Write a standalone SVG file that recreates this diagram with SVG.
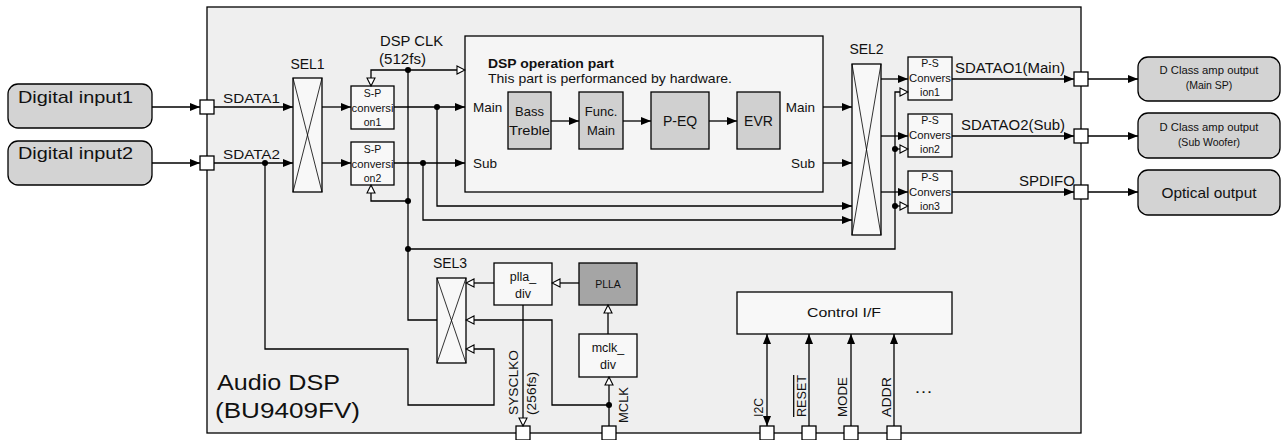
<svg xmlns="http://www.w3.org/2000/svg" width="1282" height="440" viewBox="0 0 1282 440">
<style>
.ln{stroke:#000;stroke-width:1.3;fill:none}
.bx{stroke:#000;stroke-width:1.3}
.t{font-family:"Liberation Sans",Arial,sans-serif;fill:#111}
.c{text-anchor:middle}
.e{text-anchor:end}
.dot{fill:#000}
.pin{fill:#fff;stroke:#000;stroke-width:1.3}
</style>
<defs>
<marker id="af" markerWidth="10" markerHeight="8" refX="10" refY="4" orient="auto" markerUnits="userSpaceOnUse"><path d="M0,0 L10,4 L0,8 z" fill="#000"/></marker>
<marker id="afr" markerWidth="10" markerHeight="8" refX="10" refY="4" orient="auto-start-reverse" markerUnits="userSpaceOnUse"><path d="M0,0 L10,4 L0,8 z" fill="#000"/></marker>
<marker id="ah" markerWidth="10" markerHeight="10" refX="9" refY="5" orient="auto" markerUnits="userSpaceOnUse"><path d="M1,1 L9,5 L1,9 z" fill="#fff" stroke="#000" stroke-width="1.1"/></marker>
</defs>

<g id="chip">
<rect x="207" y="7" width="874" height="426" fill="#efefef" class="bx"/>
<text class="t" x="217" y="390" font-size="22" textLength="123" lengthAdjust="spacingAndGlyphs">Audio DSP</text>
<text class="t" x="215" y="418" font-size="22" textLength="145" lengthAdjust="spacingAndGlyphs">(BU9409FV)</text>
</g>

<g id="input1">
<rect x="8" y="84" width="144" height="44" rx="10" fill="#d3d3d3" class="bx"/>
<text class="t" x="18" y="103" font-size="17" textLength="115" lengthAdjust="spacingAndGlyphs">Digital input1</text>
</g>
<g id="input2">
<rect x="8" y="141" width="144" height="44" rx="10" fill="#d3d3d3" class="bx"/>
<text class="t" x="18" y="159" font-size="17" textLength="115" lengthAdjust="spacingAndGlyphs">Digital input2</text>
</g>

<g id="sel1">
<rect x="293" y="78" width="29" height="114" fill="#f8f8f8" class="bx"/>
<path d="M293,78 L322,192 M322,78 L293,192" stroke="#000" stroke-width="0.8"/>
<text class="t c" x="307.5" y="69" font-size="14">SEL1</text>
</g>

<g id="sp1">
<rect x="351" y="86" width="43" height="43" fill="#f8f8f8" class="bx"/>
<text class="t c" x="372.5" y="97" font-size="10.5">S-P</text>
<text class="t c" x="372.5" y="112" font-size="10.5" textLength="42" lengthAdjust="spacingAndGlyphs">conversi</text>
<text class="t c" x="372.5" y="126" font-size="10.5">on1</text>
</g>
<g id="sp2">
<rect x="351" y="142" width="43" height="43" fill="#f8f8f8" class="bx"/>
<text class="t c" x="372.5" y="153" font-size="10.5">S-P</text>
<text class="t c" x="372.5" y="168" font-size="10.5" textLength="42" lengthAdjust="spacingAndGlyphs">conversi</text>
<text class="t c" x="372.5" y="182" font-size="10.5">on2</text>
</g>

<g id="dspclk-label">
<text class="t" x="380" y="46" font-size="14.5" textLength="63" lengthAdjust="spacingAndGlyphs">DSP CLK</text>
<text class="t" x="379" y="64" font-size="14.5" textLength="47" lengthAdjust="spacingAndGlyphs">(512fs)</text>
</g>

<g id="dsp-op">
<rect x="465" y="36" width="358" height="156" fill="#f5f5f5" class="bx"/>
<text class="t" x="488" y="68" font-size="13" font-weight="bold" textLength="126" lengthAdjust="spacingAndGlyphs">DSP operation part</text>
<text class="t" x="488" y="83" font-size="13" textLength="244" lengthAdjust="spacingAndGlyphs">This part is performanced by hardware.</text>
<text class="t" x="473" y="112" font-size="13.5">Main</text>
<text class="t" x="473" y="168" font-size="13.5">Sub</text>
<text class="t e" x="815" y="112" font-size="13.5">Main</text>
<text class="t e" x="815" y="168" font-size="13.5">Sub</text>
</g>
<g id="bass">
<rect x="508" y="92" width="43" height="57" fill="#d0d0d0" class="bx"/>
<text class="t c" x="529.5" y="116" font-size="13">Bass</text>
<text class="t c" x="529.5" y="135" font-size="13" textLength="41" lengthAdjust="spacingAndGlyphs">Treble</text>
</g>
<g id="func">
<rect x="579" y="92" width="44" height="57" fill="#d0d0d0" class="bx"/>
<text class="t c" x="601" y="116" font-size="13">Func.</text>
<text class="t c" x="601" y="135" font-size="13">Main</text>
</g>
<g id="peq">
<rect x="651" y="92" width="58" height="57" fill="#d0d0d0" class="bx"/>
<text class="t c" x="680" y="126" font-size="14">P-EQ</text>
</g>
<g id="evr">
<rect x="737" y="92" width="43" height="57" fill="#d0d0d0" class="bx"/>
<text class="t c" x="758.5" y="126" font-size="14">EVR</text>
</g>

<g id="sel2">
<rect x="852" y="64" width="29" height="171" fill="#f8f8f8" class="bx"/>
<path d="M852,64 L881,235 M881,64 L852,235" stroke="#000" stroke-width="0.8"/>
<text class="t c" x="866.5" y="54" font-size="14">SEL2</text>
</g>

<g id="ps1">
<rect x="908" y="57" width="44" height="43" fill="#f8f8f8" class="bx"/>
<text class="t c" x="930" y="67" font-size="10.5">P-S</text>
<text class="t c" x="930" y="82" font-size="10.5" textLength="42" lengthAdjust="spacingAndGlyphs">Convers</text>
<text class="t c" x="930" y="96" font-size="10.5">ion1</text>
</g>
<g id="ps2">
<rect x="908" y="114" width="44" height="43" fill="#f8f8f8" class="bx"/>
<text class="t c" x="930" y="124" font-size="10.5">P-S</text>
<text class="t c" x="930" y="139" font-size="10.5" textLength="42" lengthAdjust="spacingAndGlyphs">Convers</text>
<text class="t c" x="930" y="153" font-size="10.5">ion2</text>
</g>
<g id="ps3">
<rect x="908" y="171" width="44" height="42" fill="#f8f8f8" class="bx"/>
<text class="t c" x="930" y="181" font-size="10.5">P-S</text>
<text class="t c" x="930" y="196" font-size="10.5" textLength="42" lengthAdjust="spacingAndGlyphs">Convers</text>
<text class="t c" x="930" y="210" font-size="10.5">ion3</text>
</g>

<g id="out1">
<rect x="1138" y="57" width="142" height="44" rx="10" fill="#d3d3d3" class="bx"/>
<text class="t c" x="1209" y="74" font-size="10.5" textLength="99" lengthAdjust="spacingAndGlyphs">D Class amp output</text>
<text class="t c" x="1209" y="89" font-size="10.5">(Main SP)</text>
</g>
<g id="out2">
<rect x="1138" y="113" width="142" height="45" rx="10" fill="#d3d3d3" class="bx"/>
<text class="t c" x="1209" y="131" font-size="10.5" textLength="99" lengthAdjust="spacingAndGlyphs">D Class amp output</text>
<text class="t c" x="1209" y="146" font-size="10.5">(Sub Woofer)</text>
</g>
<g id="out3">
<rect x="1138" y="170" width="142" height="45" rx="10" fill="#d3d3d3" class="bx"/>
<text class="t c" x="1209" y="198" font-size="15" textLength="95" lengthAdjust="spacingAndGlyphs">Optical output</text>
</g>

<g id="sel3">
<rect x="437" y="278" width="29" height="85" fill="#f8f8f8" class="bx"/>
<path d="M437,278 L466,363 M466,278 L437,363" stroke="#000" stroke-width="0.8"/>
<text class="t c" x="450" y="268" font-size="14">SEL3</text>
</g>
<g id="plla-div">
<rect x="494" y="263" width="58" height="42" fill="#f8f8f8" class="bx"/>
<text class="t c" x="523" y="281" font-size="12.5">plla_</text>
<text class="t c" x="523" y="298" font-size="12.5">div</text>
</g>
<g id="plla">
<rect x="579" y="263" width="58" height="42" fill="#a5a5a5" class="bx"/>
<text class="t c" x="608" y="288" font-size="10.5">PLLA</text>
</g>
<g id="mclk-div">
<rect x="579" y="334" width="58" height="43" fill="#f8f8f8" class="bx"/>
<text class="t c" x="608" y="352" font-size="12.5">mclk_</text>
<text class="t c" x="608" y="369" font-size="12.5">div</text>
</g>
<g id="control-if">
<rect x="737" y="292" width="215" height="42" fill="#f8f8f8" class="bx"/>
<text class="t c" x="844" y="317" font-size="13" textLength="74" lengthAdjust="spacingAndGlyphs">Control I/F</text>
</g>

<g id="pins">
<rect class="pin" x="200" y="100" width="14" height="14"/>
<rect class="pin" x="200" y="156" width="14" height="14"/>
<rect class="pin" x="1074" y="72" width="14" height="14"/>
<rect class="pin" x="1074" y="129" width="14" height="14"/>
<rect class="pin" x="1074" y="185" width="14" height="14"/>
<rect class="pin" x="516" y="426" width="14" height="14"/>
<rect class="pin" x="602" y="426" width="14" height="14"/>
<rect class="pin" x="760" y="426" width="14" height="14"/>
<rect class="pin" x="802" y="426" width="14" height="14"/>
<rect class="pin" x="844" y="426" width="14" height="14"/>
<rect class="pin" x="887" y="426" width="14" height="14"/>
</g>

<g id="connectors">
<path class="ln" d="M152,107 H200" marker-end="url(#af)"/>
<path class="ln" d="M152,163 H200" marker-end="url(#af)"/>
<path class="ln" d="M214,107 H293" marker-end="url(#af)"/>
<path class="ln" d="M214,163 H293" marker-end="url(#af)"/>
<path class="ln" d="M265,163 V349 H408 V405 H494 V349 H466" marker-end="url(#ah)"/>
<path class="ln" d="M322,107 H351" marker-end="url(#af)"/>
<path class="ln" d="M322,163 H351" marker-end="url(#af)"/>
<path class="ln" d="M394,107 H465" marker-end="url(#af)"/>
<path class="ln" d="M394,163 H465" marker-end="url(#af)"/>
<path class="ln" d="M437,107 V206 H852" marker-end="url(#af)"/>
<path class="ln" d="M423,163 V220 H852" marker-end="url(#af)"/>
<path class="ln" d="M408,70 H465" marker-end="url(#ah)"/>
<path class="ln" d="M408,70 H371 V86" marker-end="url(#ah)"/>
<path class="ln" d="M408,70 V320 H437"/>
<path class="ln" d="M408,201 H371 V185" marker-end="url(#ah)"/>
<path class="ln" d="M408,249 H895 V92 H908" marker-end="url(#ah)"/>
<path class="ln" d="M895,149 H908" marker-end="url(#ah)"/>
<path class="ln" d="M895,206 H908" marker-end="url(#ah)"/>
<path class="ln" d="M551,121 H579" marker-end="url(#af)"/>
<path class="ln" d="M623,121 H651" marker-end="url(#af)"/>
<path class="ln" d="M709,121 H737" marker-end="url(#af)"/>
<path class="ln" d="M823,107 H852" marker-end="url(#af)"/>
<path class="ln" d="M823,163 H852" marker-end="url(#af)"/>
<path class="ln" d="M881,79 H908" marker-end="url(#af)"/>
<path class="ln" d="M881,136 H908" marker-end="url(#af)"/>
<path class="ln" d="M881,192 H908" marker-end="url(#af)"/>
<path class="ln" d="M952,79 H1074" marker-end="url(#af)"/>
<path class="ln" d="M952,136 H1074" marker-end="url(#af)"/>
<path class="ln" d="M952,192 H1074" marker-end="url(#af)"/>
<path class="ln" d="M1088,79 H1138" marker-end="url(#af)"/>
<path class="ln" d="M1088,136 H1138" marker-end="url(#af)"/>
<path class="ln" d="M1088,192 H1138" marker-end="url(#af)"/>
<path class="ln" d="M579,283 H552" marker-end="url(#ah)"/>
<path class="ln" d="M494,283 H466" marker-end="url(#ah)"/>
<path class="ln" d="M608,334 V305" marker-end="url(#ah)"/>
<path class="ln" d="M609,426 V377" marker-end="url(#ah)"/>
<path class="ln" d="M609,405 H552 V320 H466" marker-end="url(#ah)"/>
<path class="ln" d="M523,305 V426" marker-end="url(#ah)"/>
<path class="ln" d="M767,426 V334" marker-start="url(#afr)" marker-end="url(#afr)"/>
<path class="ln" d="M809,426 V334" marker-end="url(#af)"/>
<path class="ln" d="M851,426 V334" marker-end="url(#af)"/>
<path class="ln" d="M894,426 V334" marker-end="url(#af)"/>
<circle class="dot" cx="265" cy="163" r="3"/>
<circle class="dot" cx="437" cy="107" r="3"/>
<circle class="dot" cx="423" cy="163" r="3"/>
<circle class="dot" cx="408" cy="70" r="3"/>
<circle class="dot" cx="408" cy="201" r="3"/>
<circle class="dot" cx="408" cy="249" r="3"/>
<circle class="dot" cx="895" cy="149" r="3"/>
<circle class="dot" cx="895" cy="206" r="3"/>
<circle class="dot" cx="609" cy="405" r="3"/>
</g>

<g id="labels">
<text class="t" x="223" y="103" font-size="13" textLength="57" lengthAdjust="spacingAndGlyphs">SDATA1</text>
<text class="t" x="223" y="159" font-size="13" textLength="57" lengthAdjust="spacingAndGlyphs">SDATA2</text>
<text class="t" x="955" y="73" font-size="14" textLength="110" lengthAdjust="spacingAndGlyphs">SDATAO1(Main)</text>
<text class="t" x="961" y="130" font-size="14" textLength="104" lengthAdjust="spacingAndGlyphs">SDATAO2(Sub)</text>
<text class="t" x="1019" y="186" font-size="14" textLength="56" lengthAdjust="spacingAndGlyphs">SPDIFO</text>
<text class="t" transform="translate(518,415) rotate(-90)" font-size="13.5" textLength="65" lengthAdjust="spacingAndGlyphs">SYSCLKO</text>
<text class="t" transform="translate(536,415) rotate(-90)" font-size="13.5" textLength="43" lengthAdjust="spacingAndGlyphs">(256fs)</text>
<text class="t" transform="translate(628,423) rotate(-90)" font-size="13.5" textLength="36" lengthAdjust="spacingAndGlyphs">MCLK</text>
<text class="t" transform="translate(763,417) rotate(-90)" font-size="13.5" textLength="19" lengthAdjust="spacingAndGlyphs">I2C</text>
<text class="t" transform="translate(806,417) rotate(-90)" font-size="13.5" textLength="42" lengthAdjust="spacingAndGlyphs" style="text-decoration:overline">RESET</text>
<text class="t" transform="translate(847,417) rotate(-90)" font-size="13.5" textLength="40" lengthAdjust="spacingAndGlyphs">MODE</text>
<text class="t" transform="translate(891,417) rotate(-90)" font-size="13.5" textLength="40" lengthAdjust="spacingAndGlyphs">ADDR</text>
<text class="t" x="914" y="393" font-size="17" textLength="19" lengthAdjust="spacingAndGlyphs">…</text>
</g>
</svg>
